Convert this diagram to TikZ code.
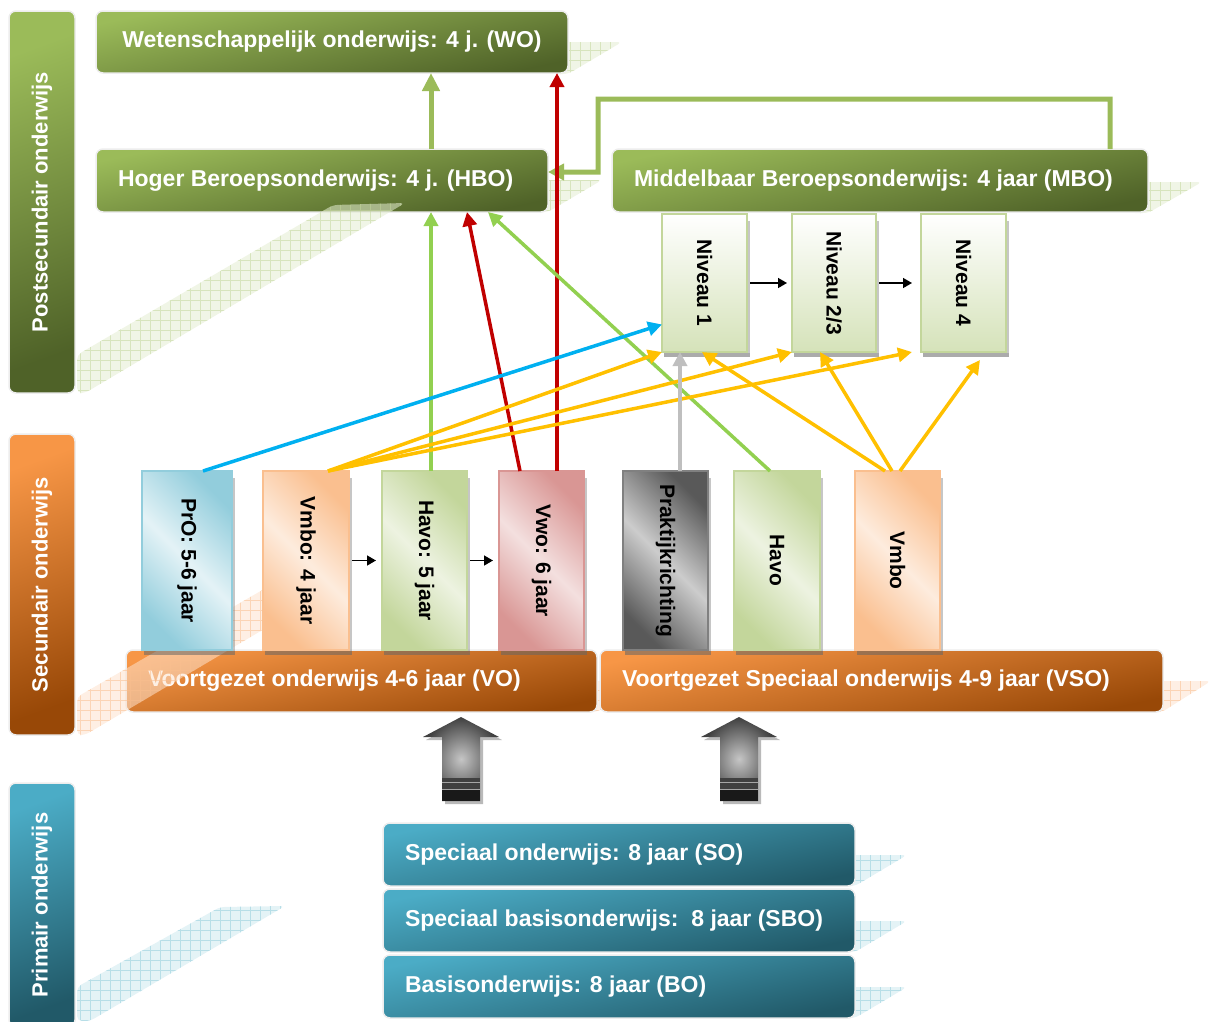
\documentclass[tikz,border=0pt]{standalone}
\usepackage{fontspec}
\setmainfont{Liberation Sans}
\usepackage{tikz}
\usetikzlibrary{arrows.meta,calc}

\definecolor{groenlicht}{HTML}{9BBB59}
\definecolor{groendonker}{HTML}{4F6228}
\definecolor{oranjelicht}{HTML}{F79646}
\definecolor{oranjedonker}{HTML}{984807}
\definecolor{blauwlicht}{HTML}{4BACC6}
\definecolor{blauwdonker}{HTML}{215968}
\definecolor{lijngroen}{HTML}{92D050}
\definecolor{lijnrood}{HTML}{C00000}
\definecolor{lijnblauw}{HTML}{00B0F0}
\definecolor{lijngeel}{HTML}{FFC000}
\definecolor{lijngrijs}{HTML}{BFBFBF}
\definecolor{rastergroen}{HTML}{C3D69B}
\definecolor{rasteroranje}{HTML}{FABF8F}
\definecolor{rasterblauw}{HTML}{92CDDC}
\definecolor{rasterrood}{HTML}{D99694}

\newcommand{\regel}[2]{\makebox[#1pt][l]{#2}}
\newcommand{\rasterband}[2]{%
  \begin{scope}[fill opacity=.55, draw opacity=.55]
    \clip[rounded corners=5pt] #2;
    \fill[#1!45] (0,0) rectangle (1211,1021);
    \draw[#1, line width=.5pt, step=10pt] (0,0) grid (1211,1021);
  \end{scope}}

\tikzset{
  balk/.style 2 args={rectangle, rounded corners=7pt, draw=black!7, line width=1.5pt,
      inner sep=0pt, outer sep=0pt, anchor=north west, minimum width=66pt,
      top color=#1, bottom color=#2, shading angle=20, text=white,
      font=\fontsize{22}{26}\selectfont\bfseries},
  laag/.style 2 args={rectangle, rounded corners=7pt, draw=black!7, line width=1.5pt,
      inner xsep=22pt, inner ysep=0pt, outer sep=0pt, anchor=north west,
      top color=#1, bottom color=#2, shading angle=12, text=white,
      font=\fontsize{23}{27}\selectfont\bfseries},
  kolom/.style n args={3}{rectangle, draw=#1, line width=2pt, inner sep=0pt, outer sep=0pt,
      anchor=north west, minimum width=85pt, minimum height=179pt,
      left color=#2, right color=#2, middle color=#3, shading angle=135,
      font=\fontsize{21}{25}\selectfont\bfseries},
  niveau/.style={rectangle, draw=rastergroen, line width=2pt, inner sep=0pt, outer sep=0pt,
      anchor=north west, minimum width=85pt, minimum height=138pt,
      top color=white, bottom color=rastergroen!70,
      font=\fontsize{21}{25}\selectfont\bfseries},
  pijl/.style={line width=3.5pt, -{Triangle[length=14pt,width=14pt]}},
  stap/.style={line width=1.5pt, -{Triangle[length=9pt,width=10pt]}, shorten <=3pt, shorten >=6pt},
}

\begin{document}
\begin{tikzpicture}[x=1pt,y=1pt,yscale=-1,xscale=1]
    \useasboundingbox (0,0) rectangle (1211,1021);
    \clip (0,0) rectangle (1211,1021);

    % zijbalken
    \node[balk={groenlicht}{groendonker}, minimum height=382pt] (post) at (9,11) {\rotatebox{90}{Postsecundair onderwijs}};
    \node[balk={oranjelicht}{oranjedonker}, minimum height=301pt] (sec) at (9,434) {\rotatebox{90}{Secundair onderwijs}};
    \node[balk={blauwlicht}{blauwdonker}, minimum height=244pt] (prim) at (9,783) {\rotatebox{90}{Primair onderwijs}};

    % schaduwen rechts van de lagen
    \rasterband{rastergroen}{(550,42) -- (622,42) -- (568,74) -- (550,74) -- cycle}
    \rasterband{rastergroen}{(530,180) -- (602,180) -- (548,212) -- (530,212) -- cycle}
    \rasterband{rastergroen}{(1130,182) -- (1202,182) -- (1148,213) -- (1130,213) -- cycle}
    \rasterband{rasteroranje}{(580,681) -- (645,681) -- (597,712) -- (580,712) -- cycle}
    \rasterband{rasteroranje}{(1145,681) -- (1211,681) -- (1162,712) -- (1145,712) -- cycle}
    \rasterband{rasterblauw}{(840,855) -- (907,855) -- (855,886) -- (840,886) -- cycle}
    \rasterband{rasterblauw}{(840,921) -- (907,921) -- (855,952) -- (840,952) -- cycle}
    \rasterband{rasterblauw}{(840,987) -- (907,987) -- (855,1018) -- (840,1018) -- cycle}

    % lagen
    \node[laag={groenlicht}{groendonker}, minimum height=62pt] (wo) at (96,11) {\makebox[428pt]{Wetenschappelijk onderwijs: 4 j. (WO)}};
    \node[laag={groenlicht}{groendonker}, minimum height=63pt] (hbo) at (96,149) {\regel{408}{Hoger Beroepsonderwijs: 4 j. (HBO)}};
    \node[laag={groenlicht}{groendonker}, minimum height=63pt] (mbo) at (612,149) {\regel{492}{Middelbaar Beroepsonderwijs: 4 jaar (MBO)}};
    \node[laag={oranjelicht}{oranjedonker}, minimum height=62pt] (vo) at (126,650) {\regel{427}{Voortgezet onderwijs 4-6 jaar (VO)}};
    \node[laag={oranjelicht}{oranjedonker}, minimum height=62pt] (vso) at (600,650) {\regel{519}{Voortgezet Speciaal onderwijs 4-9 jaar (VSO)}};
    \node[laag={blauwlicht}{blauwdonker}, minimum height=63pt] (so) at (383,823) {\regel{428}{Speciaal onderwijs: 8 jaar (SO)}};
    \node[laag={blauwlicht}{blauwdonker}, minimum height=63pt] (sbo) at (383,889) {\regel{428}{Speciaal basisonderwijs:\ \ 8 jaar (SBO)}};
    \node[laag={blauwlicht}{blauwdonker}, minimum height=63pt] (bo) at (383,955) {\regel{428}{Basisonderwijs: 8 jaar (BO)}};

    % schuine schaduwbanden
    \rasterband{rastergroen}{(77,355) -- (333,205) -- (405,203) -- (85,393) -- (77,393) -- cycle}
    \rasterband{rasteroranje}{(77,697) -- (330,551) -- (330,590) -- (85,735) -- (77,735) -- cycle}
    \rasterband{rasterblauw}{(77,987) -- (220,907) -- (285,906) -- (90,1021) -- (77,1021) -- cycle}

    % schooltypen
    \node[kolom={rasterblauw}{rasterblauw}{rasterblauw!25}, minimum width=90pt] (pro) at (142,471) {\rotatebox{-90}{PrO: 5-6 jaar}};
    \node[kolom={rasteroranje}{rasteroranje}{rasteroranje!30}, minimum width=86pt] (vmbo) at (263,471) {\rotatebox{-90}{Vmbo: 4 jaar}};
    \node[kolom={rastergroen}{rastergroen}{rastergroen!30}] (havo) at (382,471) {\rotatebox{-90}{Havo: 5 jaar}};
    \node[kolom={rasterrood}{rasterrood}{rasterrood!30}] (vwo) at (499,471) {\rotatebox{-90}{Vwo: 6 jaar}};
    \node[kolom={black!50}{black!65}{black!20}] (prak) at (623,471) {\rotatebox{-90}{Praktijkrichting}};
    \node[kolom={rastergroen}{rastergroen}{rastergroen!30}, minimum width=86pt] (vhavo) at (734,471) {\rotatebox{-90}{Havo}};
    \node[kolom={rasteroranje}{rasteroranje}{rasteroranje!30}] (vvmbo) at (855,471) {\rotatebox{-90}{Vmbo}};

    % mbo-niveaus
    \node[niveau] (niv1) at (662,214) {\rotatebox{-90}{Niveau 1}};
    \node[niveau, minimum width=84pt] (niv23) at (792,214) {\rotatebox{-90}{Niveau 2/3}};
    \node[niveau] (niv4) at (921,214) {\rotatebox{-90}{Niveau 4}};

    % randjes onder en rechts
    \foreach \k in {pro,vmbo,havo,vwo,prak,vhavo,vvmbo,niv1,niv23,niv4}{
        \fill[black!60, opacity=.55] ($(\k.south west)+(2,1)$) rectangle ($(\k.south east)+(3,5)$);
        \fill[black!50, opacity=.45] ($(\k.north east)+(1,7)$) rectangle ($(\k.south east)+(3,1)$);
    }

    % blokpijlen primair -> voortgezet
    \foreach \x in {461,739}{
        \fill[gray!55] (\x+3,720) -- (\x+41,740) -- (\x+22,740) -- (\x+22,804) -- (\x-16,804) -- (\x-16,740) -- (\x-35,740) -- cycle;
        \shade[inner color=gray!45, outer color=black!75] (\x,717) -- (\x+38,737) -- (\x+19,737) -- (\x+19,801) -- (\x-19,801) -- (\x-19,737) -- (\x-38,737) -- cycle;
        \fill[black!75] (\x-19,778) rectangle (\x+19,801);
        \fill[black!90] (\x-19,790) rectangle (\x+19,801);
        \draw[gray!70, line width=1pt] (\x-19,782) -- (\x+19,782) (\x-19,789) -- (\x+19,789);
    }

    % doorstroom
    \draw[pijl, groenlicht, line width=5pt, -{Triangle[length=18pt,width=17pt]}] ([xshift=335pt]hbo.north west) -- ([xshift=335pt]wo.south west);
    \draw[pijl, groenlicht, line width=5pt, -{Triangle[length=16pt,width=16pt]}] ([xshift=498pt]mbo.north west) -- ++(0,-50) -| ++(-512,73) -- ($(hbo.north east)!0.365!(hbo.south east)$);
    \draw[pijl, lijnrood] ([xshift=58pt]vwo.north west) -- ([xshift=461pt]wo.south west);
    \draw[pijl, lijnrood] ([xshift=21pt]vwo.north west) -- ([xshift=371pt]hbo.south west);
    \draw[pijl, lijngroen] ([xshift=49pt]havo.north west) -- ([xshift=335pt]hbo.south west);
    \draw[pijl, lijngroen] ([xshift=36pt]vhavo.north west) -- ([xshift=392pt]hbo.south west);
    \draw[pijl, lijnblauw] ([xshift=61pt]pro.north west) -- ($(niv1.north west)!0.8!(niv1.south west)$);
    \draw[pijl, lijngeel] ([xshift=65pt]vmbo.north west) -- (niv1.south west);
    \draw[pijl, lijngeel] ([xshift=65pt]vmbo.north west) -- (niv23.south west);
    \draw[pijl, lijngeel] ([xshift=65pt]vmbo.north west) -- ([xshift=-9pt]niv4.south west);
    \draw[pijl, lijngrijs] ([xshift=57pt]prak.north west) -- ([xshift=18pt]niv1.south west);
    \draw[pijl, lijngeel] ([xshift=30pt]vvmbo.north west) -- ([xshift=40pt]niv1.south west);
    \draw[pijl, lijngeel] ([xshift=37pt]vvmbo.north west) -- ([xshift=28pt]niv23.south west);
    \draw[pijl, lijngeel] ([xshift=45pt]vvmbo.north west) -- ($(niv4.south west)+(59,8)$);

    % kleine stappen
    \draw[stap] (vmbo.east) -- (havo.west);
    \draw[stap] (havo.east) -- (vwo.west);
    \draw[stap, shorten >=5pt] (niv1.east) -- (niv23.west);
    \draw[stap, shorten >=9pt] (niv23.east) -- (niv4.west);

\end{tikzpicture}
\end{document}
